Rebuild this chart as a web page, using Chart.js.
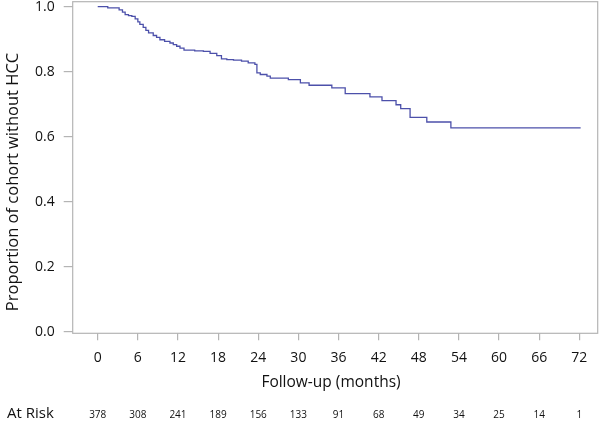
<!DOCTYPE html>
<html>
<head>
<meta charset="utf-8">
<script src="https://cdn.jsdelivr.net/npm/chart.js@4.4.1/dist/chart.umd.min.js"></script>
<style>
  html, body { margin: 0; padding: 0; background: #fff; }
  #wrap { width: 600px; height: 426px; position: relative; }
</style>
</head>
<body>
<div id="wrap"><canvas id="km"></canvas></div>
<script>
// Kaplan-Meier curve (months, proportion without HCC)
var kmTimes = [0, 1.5, 3.2, 3.7, 4.1, 4.6, 5.1, 5.6, 6.0, 6.3, 6.8, 7.2, 7.6, 8.3, 8.8, 9.3, 10.0, 10.8, 11.3, 11.8, 12.3, 12.9, 14.5, 15.8, 16.8, 17.8, 18.5, 19.3, 20.3, 21.5, 22.5, 23.5, 23.8, 24.3, 25.3, 25.8, 28.5, 30.3, 31.6, 35.0, 37.0, 40.7, 42.5, 44.6, 45.3, 46.7, 49.2, 52.8, 72.2];
var kmSurv  = [1.0, 0.996, 0.99, 0.983, 0.975, 0.972, 0.970, 0.962, 0.953, 0.945, 0.936, 0.927, 0.919, 0.911, 0.905, 0.898, 0.893, 0.888, 0.883, 0.878, 0.872, 0.866, 0.864, 0.862, 0.856, 0.849, 0.839, 0.837, 0.835, 0.832, 0.827, 0.822, 0.796, 0.791, 0.786, 0.78, 0.775, 0.765, 0.758, 0.75, 0.732, 0.722, 0.711, 0.698, 0.686, 0.659, 0.645, 0.627, 0.627];

var xTicks = [0, 6, 12, 18, 24, 30, 36, 42, 48, 54, 60, 66, 72];
var yTicks = [0.0, 0.2, 0.4, 0.6, 0.8, 1.0];
var atRisk = [378, 308, 241, 189, 156, 133, 91, 68, 49, 34, 25, 14, 1];

var FONT = '"Open Sans", "Noto Sans", sans-serif';
var GREY = '#b4b4b4';
var INK = '#111';

// box round the plot, titles and the at-risk row
var extras = {
    id: 'extras',
    beforeDatasetsDraw: function(chart) {
        var a = chart.chartArea, ctx = chart.ctx;
        ctx.save();
        ctx.strokeStyle = GREY;
        ctx.lineWidth = 1.2;
        ctx.strokeRect(a.left, a.top, a.right - a.left, a.bottom - a.top);
        ctx.restore();
    },
    afterDraw: function(chart) {
        var ctx = chart.ctx, xs = chart.scales.x;
        ctx.save();
        ctx.fillStyle = INK;
        ctx.textAlign = 'center';
        ctx.textBaseline = 'middle';

        ctx.font = '500 15.5px ' + FONT;
        ctx.fillText('Follow-up (months)', 331, 383);

        ctx.save();
        ctx.translate(13, 182);
        ctx.rotate(-Math.PI / 2);
        ctx.font = '500 16.5px ' + FONT;
        ctx.fillText('Proportion of cohort without HCC', 0, 0);
        ctx.restore();

        ctx.textAlign = 'left';
        ctx.font = '500 15px ' + FONT;
        ctx.fillText('At Risk', 7, 414);

        ctx.textAlign = 'center';
        ctx.font = '500 10px ' + FONT;
        for (var i = 0; i < xTicks.length; i++) {
            ctx.fillText(String(atRisk[i]), xs.getPixelForValue(xTicks[i]), 415);
        }
        ctx.restore();
    }
};

var points = kmTimes.map(function(t, i) { return { x: t, y: kmSurv[i] }; });

new Chart(document.getElementById('km'), {
    type: 'line',
    data: {
        datasets: [{
            data: points,
            stepped: true,
            borderColor: 'rgb(76, 80, 170)',
            borderWidth: 1.3,
            pointRadius: 0,
            fill: false
        }]
    },
    options: {
        responsive: true,
        maintainAspectRatio: false,
        animation: false,
        layout: { padding: { top: 1.7, right: 2.3, left: 0, bottom: 0 } },
        plugins: { legend: { display: false }, tooltip: { enabled: false } },
        scales: {
            x: {
                type: 'linear',
                min: -3.74,
                max: 74.75,
                border: { display: false },
                grid: { drawOnChartArea: false, drawTicks: true, tickLength: 7, color: GREY, lineWidth: 1.2 },
                ticks: { color: INK, font: { family: FONT, size: 14, weight: '500' }, padding: 9, maxRotation: 0 },
                afterBuildTicks: function(s) { s.ticks = xTicks.map(function(v) { return { value: v }; }); },
                afterFit: function(s) { s.height = 426 - 333.3; s.paddingLeft = 0; s.paddingRight = 0; }
            },
            y: {
                min: -0.005,
                max: 1.015,
                border: { display: false },
                grid: { drawOnChartArea: false, drawTicks: true, tickLength: 9, color: GREY, lineWidth: 1.2 },
                ticks: {
                    color: INK, font: { family: FONT, size: 14, weight: '500' }, padding: 9,
                    callback: function(v) { return v.toFixed(1); }
                },
                afterBuildTicks: function(s) { s.ticks = yTicks.map(function(v) { return { value: v }; }); },
                afterFit: function(s) { s.width = 72.7; s.paddingTop = 0; s.paddingBottom = 0; }
            }
        }
    },
    plugins: [extras]
});
</script>
</body>
</html>
